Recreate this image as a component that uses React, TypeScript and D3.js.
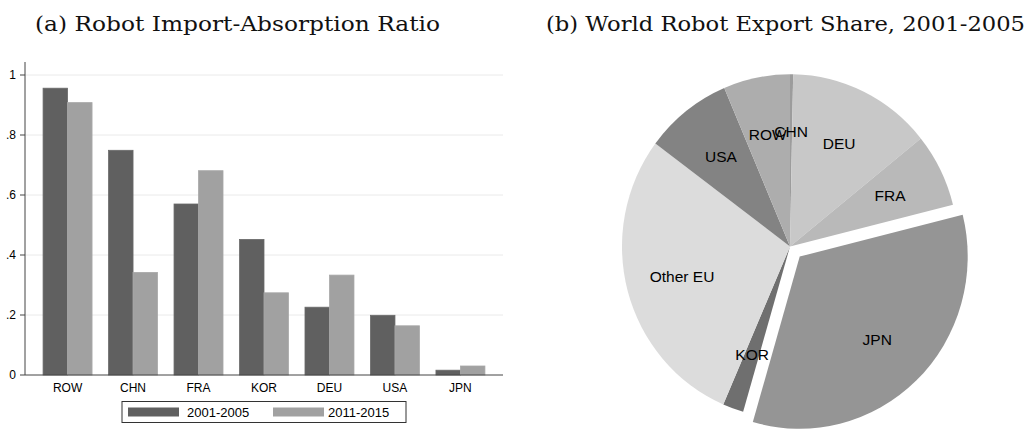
import React from "react";
import * as d3 from "d3";

const countries = ["ROW", "CHN", "FRA", "KOR", "DEU", "USA", "JPN"];
const series = ["2001-2005", "2011-2015"];
const ratio2001 = [0.956, 0.749, 0.570, 0.452, 0.226, 0.199, 0.016];
const ratio2011 = [0.908, 0.342, 0.681, 0.274, 0.333, 0.164, 0.030];
const barColors = ["#606060", "#a1a1a1"];
const yTicks = [0, 0.2, 0.4, 0.6, 0.8, 1];
const yTickLabels = ["0", ".2", ".4", ".6", ".8", "1"];

const pieLabels = ["CHN", "DEU", "FRA", "JPN", "KOR", "Other EU", "USA", "ROW"];
const pieShares = [0.3, 13.9, 6.9, 33.4, 2.0, 28.7, 8.4, 6.4];
const pieColors = ["#9c9c9c", "#c8c8c8", "#b9b9b9", "#959595", "#6f6f6f", "#dcdcdc", "#838383", "#adadad"];
const exploded = ["JPN"];

export default function App() {
  const W = 1029, H = 430;
  // bar panel
  const left = 25, right = 503, top = 62, bottom = 375;
  const x0 = d3.scaleBand<string>().domain(countries).range([left, right]).paddingInner(0.252).paddingOuter(0.276);
  const x1 = d3.scaleBand<string>().domain(series).range([0, x0.bandwidth()]);
  const y = d3.scaleLinear().domain([0, 1]).range([bottom, 75]);
  const vals = [ratio2001, ratio2011];

  // pie panel
  const cx = 790, cy = 246.5, r = 168, sy = 1.025;
  const pie = d3.pie<number>().sort(null).startAngle(0).endAngle(2 * Math.PI);
  const arcs = pie(pieShares);
  const arc = d3.arc<d3.PieArcDatum<number>>().innerRadius(0).outerRadius(r);
  const font = "'Liberation Sans', Arial, Helvetica, sans-serif";
  const serif = "'DejaVu Serif', serif";

  return (
    <svg width={W} height={H} style={{ position: "absolute", left: 0, top: 0, background: "#fff" }}>
      <text x={35} y={31} fontFamily={serif} fontSize={21} textLength={405} lengthAdjust="spacingAndGlyphs" fill="#111">(a) Robot Import-Absorption Ratio</text>
      <text x={546} y={31} fontFamily={serif} fontSize={21} textLength={479} lengthAdjust="spacingAndGlyphs" fill="#111">(b) World Robot Export Share, 2001-2005</text>

      {/* gridlines */}
      {yTicks.slice(1).map((t) => (
        <line key={"g" + t} x1={left} x2={right} y1={y(t)} y2={y(t)} stroke="#eaeaea" strokeWidth={1} />
      ))}
      {/* bars */}
      {countries.map((c, i) => (
        <g key={c}>
          {series.map((s, j) => {
            const v = vals[j][i];
            return (
              <rect key={s} x={(x0(c) as number) + (x1(s) as number)} y={y(v)} width={x1.bandwidth()} height={y(0) - y(v)}
                fill={barColors[j]} stroke={j === 0 ? "#6a6a6a" : "#a8a8a8"} strokeWidth={0.8} />
            );
          })}
          <text x={(x0(c) as number) + x0.bandwidth() / 2} y={392} textAnchor="middle" fontFamily={font} fontSize={12} fill="#000">{c}</text>
        </g>
      ))}
      {/* axes */}
      <line x1={left} x2={left} y1={top} y2={bottom} stroke="#444" strokeWidth={1} />
      <line x1={left} x2={right} y1={bottom} y2={bottom} stroke="#444" strokeWidth={1} />
      {yTicks.map((t, i) => (
        <g key={"t" + t}>
          <line x1={left - 5} x2={left} y1={y(t)} y2={y(t)} stroke="#444" strokeWidth={1} />
          <text x={16} y={y(t) + 4} textAnchor="end" fontFamily={font} fontSize={12} fill="#000">{yTickLabels[i]}</text>
        </g>
      ))}
      {/* legend */}
      <rect x={122} y={401.5} width={284} height={21} fill="#fff" stroke="#333" strokeWidth={1} />
      {series.map((s, j) => (
        <g key={"l" + s}>
          <rect x={128 + j * 145} y={407.5} width={51} height={9} fill={barColors[j]} />
          <text x={187 + j * 141} y={416.5} fontFamily={font} fontSize={13} fill="#000">{s}</text>
        </g>
      ))}

      {/* pie */}
      {arcs.map((a, i) => {
        const mid = (a.startAngle + a.endAngle) / 2;
        const ex = exploded.includes(pieLabels[i]) ? 14 : 0;
        const dx = ex * Math.sin(mid), dy = -ex * Math.cos(mid);
        return (
          <g key={"p" + pieLabels[i]} transform={`translate(${cx + dx},${cy + dy}) scale(1,${sy})`}>
            <path d={arc(a) as string} fill={pieColors[i]} />
          </g>
        );
      })}
      {arcs.map((a, i) => {
        const mid = (a.startAngle + a.endAngle) / 2;
        const ex = exploded.includes(pieLabels[i]) ? 14 : 0;
        const lr = r * 0.665;
        const px = cx + (lr + ex) * Math.sin(mid);
        const py = cy - (lr * sy + ex) * Math.cos(mid);
        return (
          <text key={"pl" + pieLabels[i]} x={px} y={py + 5.5} textAnchor="middle" fontFamily={font} fontSize={15.5} fill="#000">{pieLabels[i]}</text>
        );
      })}
    </svg>
  );
}
